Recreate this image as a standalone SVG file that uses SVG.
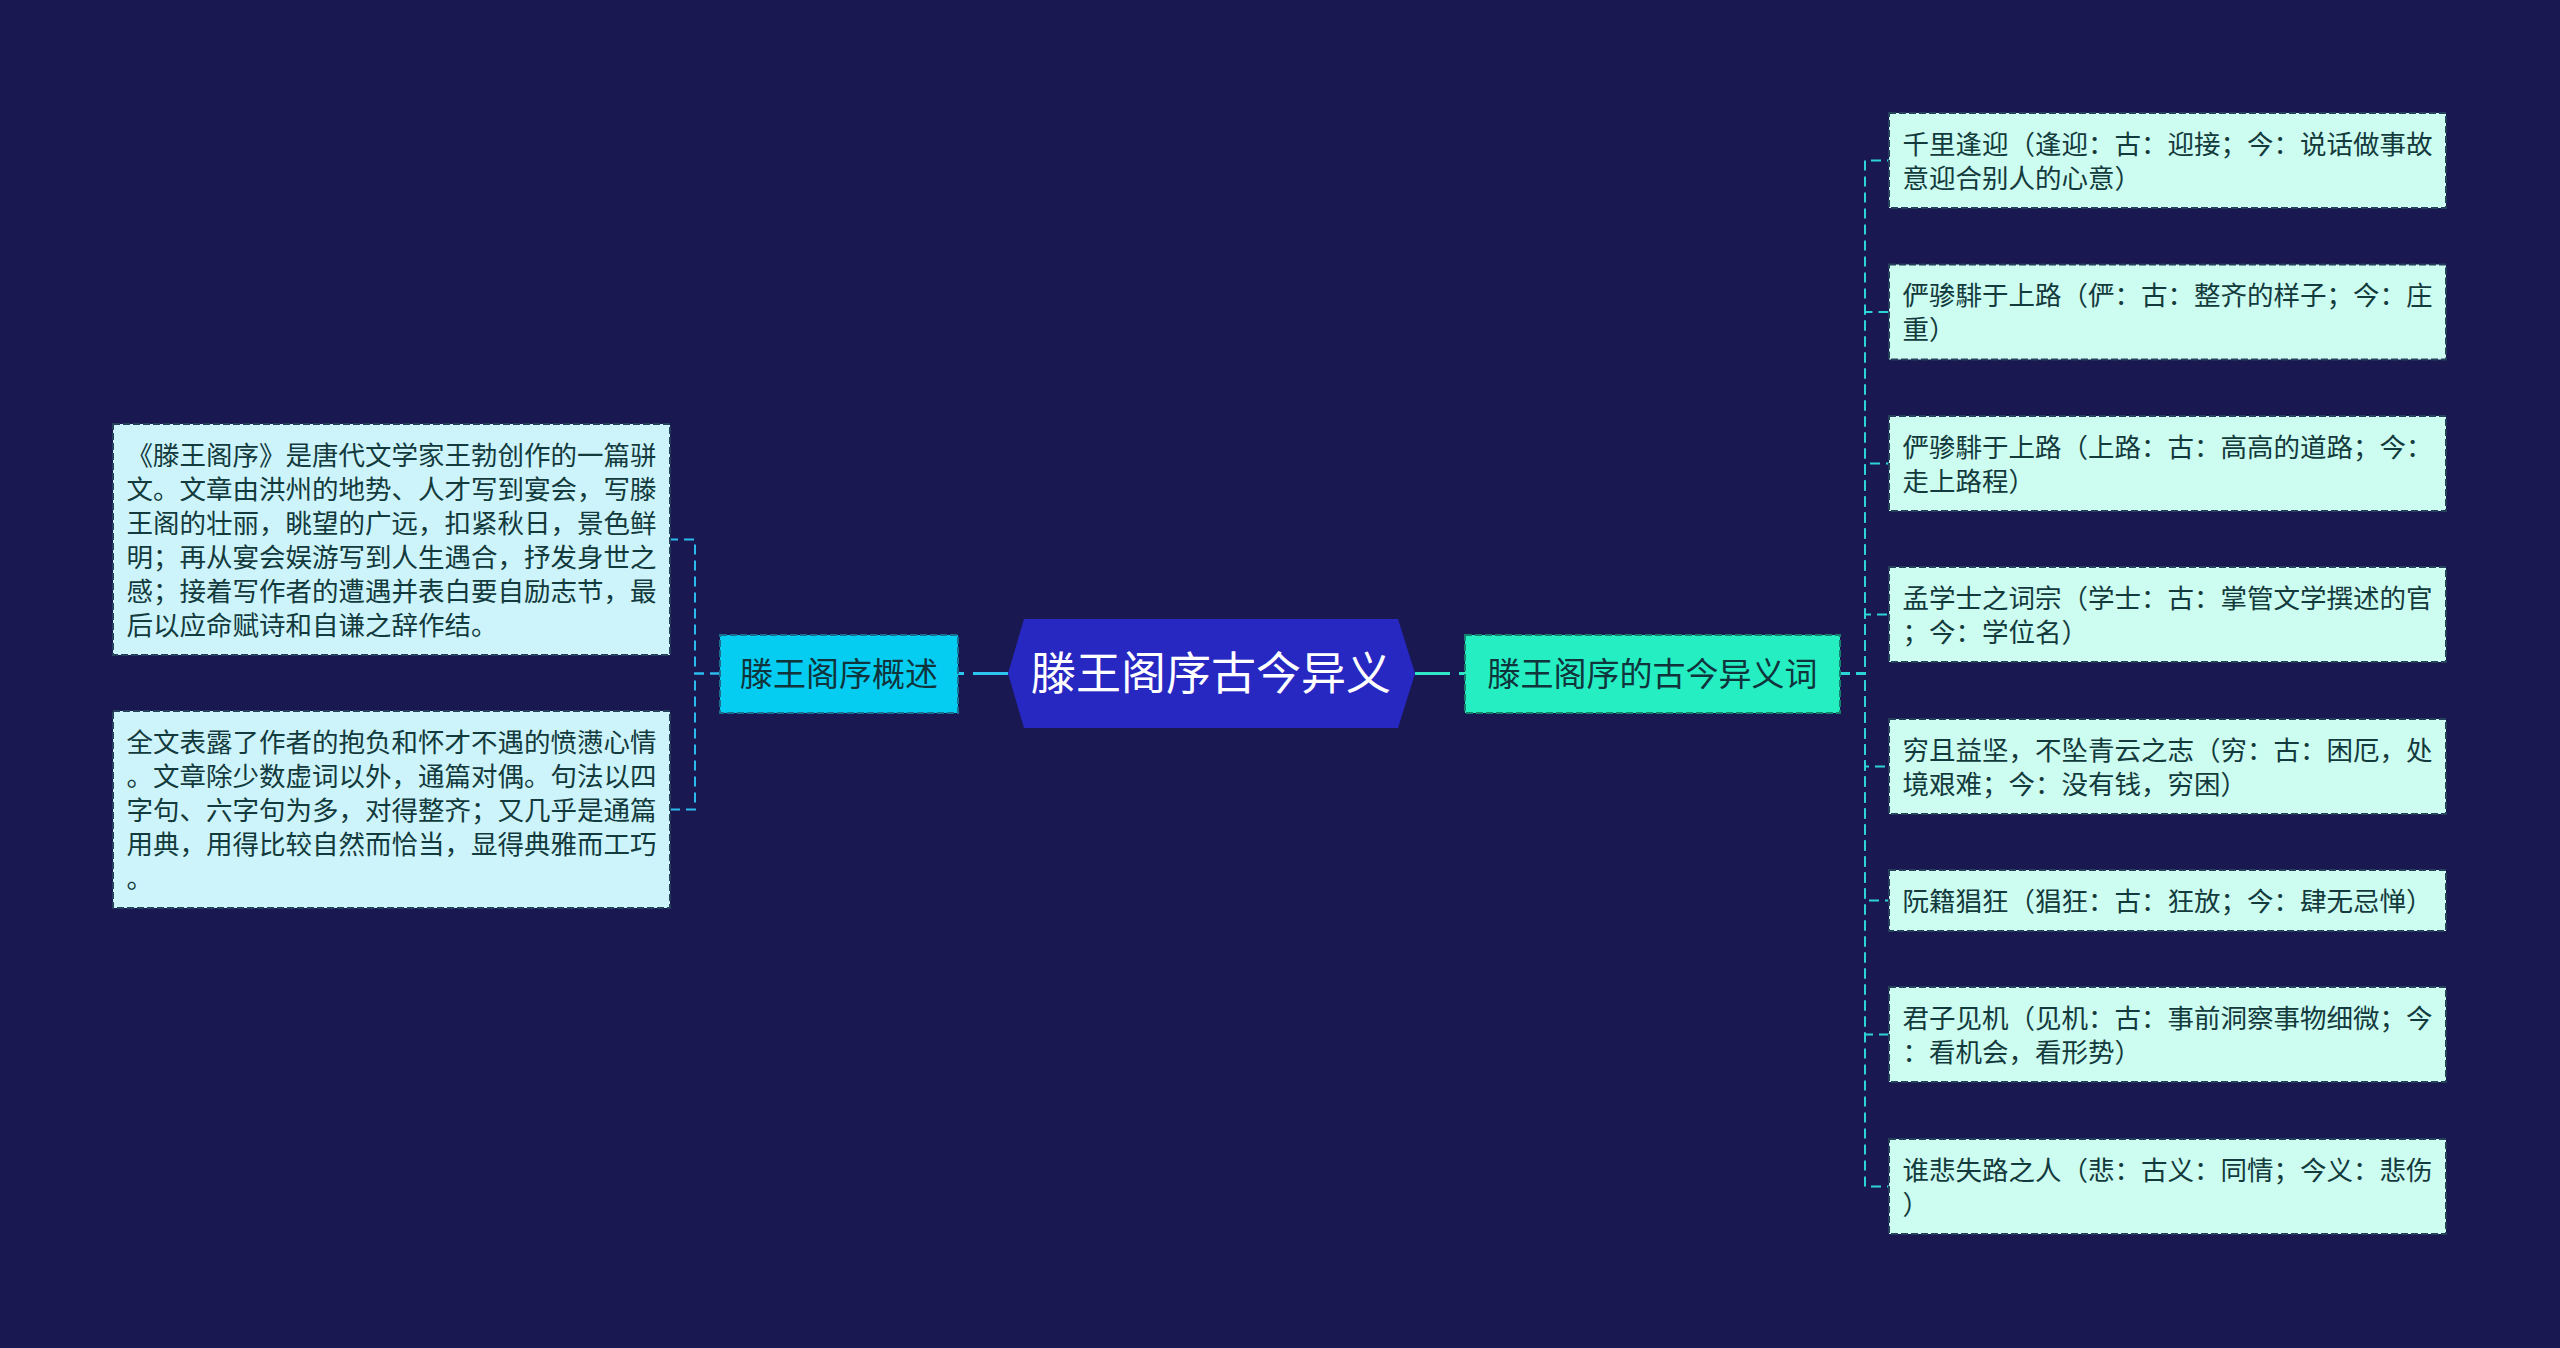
<svg xmlns="http://www.w3.org/2000/svg" width="2560" height="1348" viewBox="0 0 2560 1348">
<style>
.leafL{fill:#cdf4fb;stroke:#24405a;stroke-width:2;stroke-dasharray:7 3}
.leafR{fill:#cdfcf0;stroke:#24405a;stroke-width:2;stroke-dasharray:7 3}
.lt{font-family:"Noto Sans CJK SC","Noto Sans",sans-serif;font-size:26.5px;fill:#133a3c}
.sub{font-family:"Noto Sans CJK SC","Noto Sans",sans-serif;font-size:33px;fill:#10343c;text-anchor:middle}
.ct{font-family:"Noto Sans CJK SC","Noto Sans",sans-serif;font-size:45px;fill:#ffffff;text-anchor:middle}
.cl{fill:none;stroke:#2bbbee;stroke-width:2;stroke-dasharray:10 6}
.cr{fill:none;stroke:#2cd3d8;stroke-width:2;stroke-dasharray:10 6}
</style>
<rect x="0" y="0" width="2560" height="1348" fill="#1a1850"/>
<g id="connectors">
<path d="M1008,673.5 L958,673.5" fill="none" stroke="#2ec6f0" stroke-width="3" stroke-dasharray="35 9"/>
<path d="M1415,673.5 L1465,673.5" fill="none" stroke="#2ee8c8" stroke-width="3" stroke-dasharray="35 9"/>
<path class="cl" d="M720,673.5 H695 V539.5 H670"/>
<path class="cl" d="M720,673.5 H695 V809.5 H670"/>
<path class="cr" d="M1840,673.5 H1865 V160.5 H1889"/>
<path class="cr" d="M1840,673.5 H1865 V312 H1889"/>
<path class="cr" d="M1840,673.5 H1865 V463.5 H1889"/>
<path class="cr" d="M1840,673.5 H1865 V614.5 H1889"/>
<path class="cr" d="M1840,673.5 H1865 V766.5 H1889"/>
<path class="cr" d="M1840,673.5 H1865 V900.5 H1889"/>
<path class="cr" d="M1840,673.5 H1865 V1034.5 H1889"/>
<path class="cr" d="M1840,673.5 H1865 V1186.5 H1889"/>
</g>
<g id="root">
<polygon points="1008,673.5 1024,619 1398,619 1415,673.5 1398,728 1024,728" fill="#2727c2"/>
<text class="ct" x="1211" y="690">滕王阁序古今异义</text>
</g>
<g id="overview">
<rect x="720" y="635" width="238" height="78" fill="#05cdf2" stroke="#1a6f90" stroke-width="2" stroke-dasharray="7 3"/>
<text class="sub" x="839" y="686">滕王阁序概述</text>
</g>
<g id="overview-1">
<rect class="leafL" x="113" y="424" width="557" height="231"/>
<text class="lt" x="126.5" y="464.5"><tspan x="126.5">《滕王阁序》是唐代文学家王勃创作的一篇骈</tspan><tspan x="126.5" dy="34">文。文章由洪州的地势、人才写到宴会，写滕</tspan><tspan x="126.5" dy="34">王阁的壮丽，眺望的广远，扣紧秋日，景色鲜</tspan><tspan x="126.5" dy="34">明；再从宴会娱游写到人生遇合，抒发身世之</tspan><tspan x="126.5" dy="34">感；接着写作者的遭遇并表白要自励志节，最</tspan><tspan x="126.5" dy="34">后以应命赋诗和自谦之辞作结。</tspan></text>
</g>
<g id="overview-2">
<rect class="leafL" x="113" y="711" width="557" height="197"/>
<text class="lt" x="126.5" y="751.5"><tspan x="126.5">全文表露了作者的抱负和怀才不遇的愤懑心情</tspan><tspan x="126.5" dy="34">。文章除少数虚词以外，通篇对偶。句法以四</tspan><tspan x="126.5" dy="34">字句、六字句为多，对得整齐；又几乎是通篇</tspan><tspan x="126.5" dy="34">用典，用得比较自然而恰当，显得典雅而工巧</tspan><tspan x="126.5" dy="34">。</tspan></text>
</g>
<g id="words">
<rect x="1465" y="635" width="375" height="78" fill="#24eec2" stroke="#16806e" stroke-width="2" stroke-dasharray="7 3"/>
<text class="sub" x="1652.5" y="686">滕王阁序的古今异义词</text>
</g>
<g id="word-1">
<rect class="leafR" x="1889" y="113" width="557" height="95"/>
<text class="lt" x="1902.5" y="153.5"><tspan x="1902.5">千里逢迎（逢迎：古：迎接；今：说话做事故</tspan><tspan x="1902.5" dy="34">意迎合别人的心意）</tspan></text>
</g>
<g id="word-2">
<rect class="leafR" x="1889" y="264.5" width="557" height="95"/>
<text class="lt" x="1902.5" y="305"><tspan x="1902.5">俨骖騑于上路（俨：古：整齐的样子；今：庄</tspan><tspan x="1902.5" dy="34">重）</tspan></text>
</g>
<g id="word-3">
<rect class="leafR" x="1889" y="416" width="557" height="95"/>
<text class="lt" x="1902.5" y="456.5"><tspan x="1902.5">俨骖騑于上路（上路：古：高高的道路；今：</tspan><tspan x="1902.5" dy="34">走上路程）</tspan></text>
</g>
<g id="word-4">
<rect class="leafR" x="1889" y="567" width="557" height="95"/>
<text class="lt" x="1902.5" y="607.5"><tspan x="1902.5">孟学士之词宗（学士：古：掌管文学撰述的官</tspan><tspan x="1902.5" dy="34">；今：学位名）</tspan></text>
</g>
<g id="word-5">
<rect class="leafR" x="1889" y="719" width="557" height="95"/>
<text class="lt" x="1902.5" y="759.5"><tspan x="1902.5">穷且益坚，不坠青云之志（穷：古：困厄，处</tspan><tspan x="1902.5" dy="34">境艰难；今：没有钱，穷困）</tspan></text>
</g>
<g id="word-6">
<rect class="leafR" x="1889" y="870" width="557" height="61"/>
<text class="lt" x="1902.5" y="910.5">阮籍猖狂（猖狂：古：狂放；今：肆无忌惮）</text>
</g>
<g id="word-7">
<rect class="leafR" x="1889" y="987" width="557" height="95"/>
<text class="lt" x="1902.5" y="1027.5"><tspan x="1902.5">君子见机（见机：古：事前洞察事物细微；今</tspan><tspan x="1902.5" dy="34">：看机会，看形势）</tspan></text>
</g>
<g id="word-8">
<rect class="leafR" x="1889" y="1139" width="557" height="95"/>
<text class="lt" x="1902.5" y="1179.5"><tspan x="1902.5">谁悲失路之人（悲：古义：同情；今义：悲伤</tspan><tspan x="1902.5" dy="34">）</tspan></text>
</g>
</svg>
